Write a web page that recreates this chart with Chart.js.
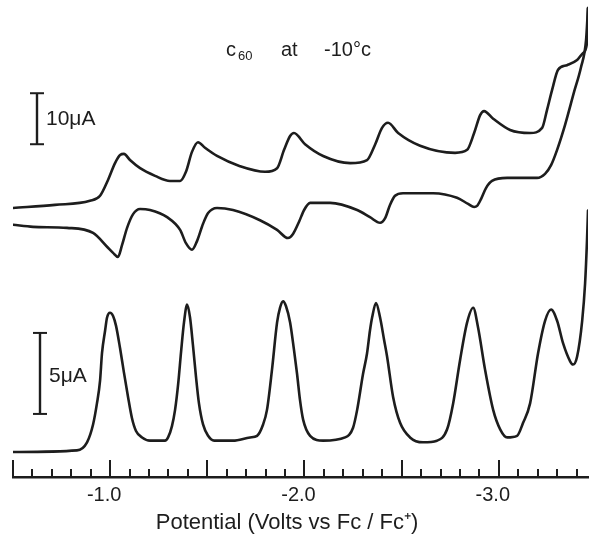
<!DOCTYPE html>
<html>
<head>
<meta charset="utf-8">
<script src="https://cdn.jsdelivr.net/npm/chart.js@4.4.1/dist/chart.umd.min.js"></script>
<style>
  html, body { margin: 0; padding: 0; background: #fff; }
  #wrap { position: relative; width: 591px; height: 536px; }
</style>
</head>
<body>
<div id="wrap"><canvas id="cv"></canvas></div>
<script>
// C60 at -10°C : cyclic voltammogram (top) + differential pulse (bottom)
// potentials in V vs Fc/Fc+, currents in µA (offset baselines)

const cvFwdV = [-0.500, -0.716, -0.896, -0.948, -0.989, -1.025, -1.051, -1.071, -1.102, -1.154,
  -1.231, -1.308, -1.360, -1.390, -1.421, -1.452, -1.488, -1.550, -1.668, -1.797,
  -1.859, -1.895, -1.926, -1.946, -2.003, -2.096, -2.235, -2.322, -2.363, -2.399,
  -2.430, -2.482, -2.595, -2.775, -2.837, -2.873, -2.904, -2.924, -2.971, -3.058,
  -3.161, -3.223, -3.248, -3.274, -3.305, -3.351, -3.403, -3.434, -3.454, -3.459];
const cvFwdI = [0.0, 0.6, 1.4, 2.4, 5.5, 8.8, 10.4, 10.6, 9.4, 7.8,
  6.3, 5.3, 5.3, 7.1, 11.0, 12.9, 11.8, 10.2, 8.2, 7.1,
  7.8, 11.4, 14.1, 14.7, 12.5, 10.2, 8.8, 9.4, 12.4, 15.7,
  16.7, 14.7, 12.2, 10.8, 11.4, 14.7, 18.2, 19.0, 17.5, 15.3,
  14.7, 15.7, 19.2, 23.1, 27.1, 28.0, 29.0, 30.4, 32.4, 39.2];

const cvRevV = [-3.459, -3.449, -3.423, -3.387, -3.341, -3.300, -3.269, -3.238, -3.197, -3.043,
  -2.965, -2.934, -2.909, -2.888, -2.873, -2.842, -2.785, -2.662, -2.507, -2.466,
  -2.440, -2.415, -2.389, -2.337, -2.271, -2.132, -2.029, -1.998, -1.972, -1.941,
  -1.915, -1.859, -1.771, -1.632, -1.550, -1.504, -1.478, -1.447, -1.421, -1.390,
  -1.360, -1.293, -1.205, -1.154, -1.118, -1.087, -1.061, -1.040, -1.015, -0.984,
  -0.912, -0.778, -0.603, -0.500];
const cvRevI = [39.2, 32.9, 27.6, 22.7, 16.3, 11.4, 8.4, 6.7, 5.9, 5.9,
  5.3, 3.9, 1.8, 0.4, 0.2, 0.8, 2.0, 2.9, 2.9, 2.4,
  0.6, -2.0, -2.9, -1.8, -0.4, 1.0, 1.0, -0.4, -2.7, -5.1,
  -5.9, -4.3, -2.4, -0.4, 0.0, -1.0, -3.1, -6.5, -8.2, -6.9,
  -4.3, -1.8, -0.4, -0.2, -1.2, -3.9, -7.3, -9.6, -8.8, -7.6,
  -4.9, -3.9, -3.7, -3.3];

const dpvV = [-0.500, -0.829, -0.881, -0.912, -0.932, -0.948, -0.958, -0.974, -0.984, -0.999,
  -1.015, -1.030, -1.051, -1.071, -1.092, -1.112, -1.133, -1.164, -1.205, -1.282,
  -1.298, -1.318, -1.334, -1.350, -1.365, -1.380, -1.396, -1.411, -1.426, -1.442,
  -1.457, -1.478, -1.504, -1.535, -1.632, -1.720, -1.756, -1.787, -1.807, -1.833, -1.859,
  -1.874, -1.890, -1.905, -1.926, -1.946, -1.962, -1.977, -1.993, -2.029, -2.096,
  -2.209, -2.250, -2.271, -2.301, -2.322, -2.337, -2.348, -2.368, -2.389, -2.410,
  -2.425, -2.456, -2.492, -2.543, -2.610, -2.682, -2.734, -2.765, -2.801, -2.837,
  -2.868, -2.893, -2.929, -2.971, -3.007, -3.043, -3.094, -3.125, -3.161, -3.202,
  -3.238, -3.269, -3.300, -3.331, -3.367, -3.382, -3.403, -3.429, -3.444, -3.454, -3.459];
const dpvI = [0.0, 0.1, 0.6, 1.7, 3.0, 4.4, 6.1, 7.5, 8.3, 8.6,
  8.4, 7.8, 6.4, 4.9, 3.4, 2.1, 1.3, 0.9, 0.7, 0.7,
  0.9, 1.6, 2.6, 4.2, 6.2, 8.0, 9.1, 8.3, 6.6, 4.6,
  3.0, 1.7, 1.0, 0.7, 0.7, 0.9, 1.0, 1.7, 2.6, 5.1, 8.0,
  8.9, 9.3, 9.0, 8.0, 6.3, 4.8, 3.2, 2.0, 1.0, 0.7,
  0.9, 1.5, 2.6, 4.8, 6.1, 7.5, 8.3, 9.2, 8.3, 6.9,
  5.9, 3.4, 1.8, 0.9, 0.6, 0.7, 1.4, 3.0, 5.7, 8.0,
  8.9, 7.7, 5.1, 2.6, 1.4, 0.9, 1.0, 1.8, 3.0, 6.1,
  8.1, 8.8, 8.1, 6.7, 5.6, 5.4, 5.9, 8.1, 10.4, 13.1, 14.9];

const tickLabels = [-1.0, -2.0, -3.0];
const majorTicks = [-0.5, -1.0, -1.5, -2.0, -2.5, -3.0];
const minorTicks = [];
for (let k = 6; k <= 34; k++) if (k % 5) minorTicks.push(-k / 10);

const INK = '#1d1d1d';
const FONT = '"Liberation Sans", Arial, Helvetica, sans-serif';
const X_TITLE = 'Potential (Volts vs Fc / Fc\u207a)';

const pts = (xs, ys) => xs.map((x, i) => ({ x, y: ys[i] }));

const trace = (data, axis) => ({
  data, yAxisID: axis, showLine: true,
  borderColor: INK, borderWidth: 2.6, pointRadius: 0,
  cubicInterpolationMode: 'monotone',
  borderJoinStyle: 'round', borderCapStyle: 'round',
});

// tick marks pointing up, scale bars, annotations
const decor = {
  id: 'decor',
  afterDraw(chart) {
    const { ctx, scales: { x, yCv, yDpv } } = chart;
    const base = x.top;
    const seg = (x1, y1, x2, y2) => { ctx.beginPath(); ctx.moveTo(x1, y1); ctx.lineTo(x2, y2); ctx.stroke(); };
    ctx.save();
    ctx.strokeStyle = INK;
    ctx.lineWidth = 2;
    minorTicks.forEach((v) => { const px = Math.round(x.getPixelForValue(v)); seg(px, base, px, base - 8); });
    majorTicks.forEach((v) => { const px = Math.round(x.getPixelForValue(v)); seg(px, base, px, base - 17); });

    const bar = (px, top, bot) => {
      ctx.lineWidth = 2.4;
      seg(px, top, px, bot);
      ctx.lineWidth = 2;
      seg(px - 7, top, px + 7, top);
      seg(px - 7, bot, px + 7, bot);
    };
    bar(Math.round(x.getPixelForValue(-0.624)), yCv.getPixelForValue(22.5), yCv.getPixelForValue(12.5));
    bar(Math.round(x.getPixelForValue(-0.639)), yDpv.getPixelForValue(7.35), yDpv.getPixelForValue(2.35));

    ctx.fillStyle = INK;
    ctx.textBaseline = 'alphabetic';
    ctx.font = `21px ${FONT}`;
    ctx.fillText('10\u03bcA', 46, 125);
    ctx.fillText('5\u03bcA', 49, 382);

    ctx.font = `20px ${FONT}`;
    ctx.fillText('c', 226, 56);
    ctx.fillText('at', 281, 56);
    ctx.fillText('-10\u00b0c', 324, 56);
    ctx.font = `13px ${FONT}`;
    ctx.fillText('60', 238, 60);

    // axis title
    ctx.font = `22px ${FONT}`;
    ctx.textAlign = 'center';
    ctx.fillText(X_TITLE, 287, 529);
    ctx.restore();
  },
};

new Chart(document.getElementById('cv'), {
  type: 'scatter',
  data: {
    datasets: [
      trace(pts(cvFwdV, cvFwdI), 'yCv'),
      trace(pts(cvRevV, cvRevI), 'yCv'),
      trace(pts(dpvV, dpvI), 'yDpv'),
    ],
  },
  options: {
    responsive: true, maintainAspectRatio: false, animation: false,
    layout: { padding: { left: 13, right: 3, top: 0, bottom: 0 } },
    plugins: { legend: { display: false }, tooltip: { enabled: false } },
    scales: {
      x: {
        type: 'linear', reverse: true, min: -3.459, max: -0.5,
        afterBuildTicks: (s) => { s.ticks = tickLabels.map((v) => ({ value: v })); },
        afterFit: (s) => { s.height = 59; },
        grid: { display: true, drawOnChartArea: false, drawTicks: false },
        border: { display: true, color: INK, width: 2.6 },
        ticks: {
          color: INK, font: { size: 20, family: FONT }, padding: 6, labelOffset: -6,
          maxRotation: 0, autoSkip: false, callback: (v) => Number(v).toFixed(1),
        },
      },
      yCv: { type: 'linear', display: false, min: -52.75, max: 40.78 },
      yDpv: { type: 'linear', display: false, min: -1.543, max: 27.9 },
    },
  },
  plugins: [decor],
});
</script>
</body>
</html>
